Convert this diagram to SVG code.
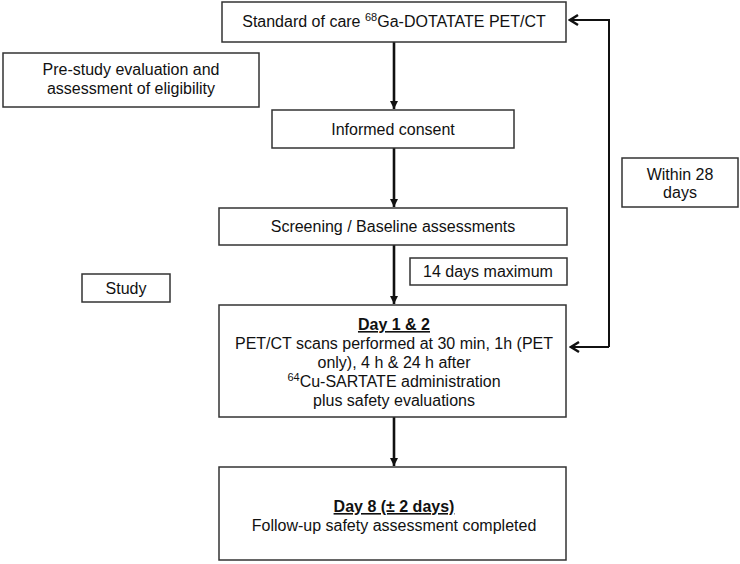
<svg xmlns="http://www.w3.org/2000/svg" width="740" height="564" viewBox="0 0 740 564">
<style>
.box{fill:#fff;stroke:#333;stroke-width:1.5}
text{font-family:"Liberation Sans",Arial,sans-serif;font-size:16px;fill:#111;text-anchor:middle}
.b{font-weight:bold;text-decoration:underline}
.sup{font-size:11px}
.line{fill:none;stroke:#111;stroke-width:2}
.v{stroke-width:2.6}
</style>
<defs>
<marker id="ad" markerWidth="10" markerHeight="10" refX="9" refY="5" orient="auto" markerUnits="userSpaceOnUse" viewBox="0 0 10 10">
<path d="M1,1 L9,5 L1,9 Z" fill="#111"/>
</marker>
<marker id="al" markerWidth="14" markerHeight="14" refX="12" refY="7" orient="auto" markerUnits="userSpaceOnUse" viewBox="0 0 14 14">
<path d="M4,2 L12,7 L4,12" fill="none" stroke="#111" stroke-width="2.5"/>
</marker>
</defs>
<rect width="740" height="564" fill="#fff"/>
<g id="connectors">
<line class="line v" x1="394" y1="42" x2="394" y2="109" marker-end="url(#ad)"/>
<line class="line v" x1="394" y1="148" x2="394" y2="207" marker-end="url(#ad)"/>
<line class="line v" x1="394" y1="245" x2="394" y2="304" marker-end="url(#ad)"/>
<line class="line v" x1="394" y1="417" x2="394" y2="466" marker-end="url(#ad)"/>
<polyline class="line" points="609,347 609,20 570,20" marker-end="url(#al)"/>
<line class="line" x1="609" y1="347" x2="571" y2="347" marker-end="url(#al)"/>
</g>
<g id="n-standard">
<rect class="box" x="222" y="2" width="344" height="40"/>
<text x="394" y="27">Standard of care <tspan class="sup" dy="-6">68</tspan><tspan dy="6">Ga-DOTATATE PET/CT</tspan></text>
</g>
<g id="n-prestudy">
<rect class="box" x="3" y="53" width="256" height="54"/>
<text x="131" y="75">Pre-study evaluation and</text>
<text x="131" y="94">assessment of eligibility</text>
</g>
<g id="n-consent">
<rect class="box" x="272" y="110" width="242" height="38"/>
<text x="393" y="135">Informed consent</text>
</g>
<g id="n-screening">
<rect class="box" x="219" y="208" width="348" height="37"/>
<text x="393" y="232">Screening / Baseline assessments</text>
</g>
<g id="n-14days">
<rect class="box" x="410" y="258" width="157" height="27"/>
<text x="488" y="277">14 days maximum</text>
</g>
<g id="n-study">
<rect class="box" x="82" y="274" width="88" height="28"/>
<text x="126" y="294">Study</text>
</g>
<g id="n-within">
<rect class="box" x="622" y="158" width="116" height="49"/>
<text x="680" y="180">Within 28</text>
<text x="680" y="198">days</text>
</g>
<g id="n-day12">
<rect class="box" x="219" y="305" width="347" height="112"/>
<text x="394" y="330" class="b">Day 1 &amp; 2</text>
<text x="394" y="349">PET/CT scans performed at 30 min, 1h (PET</text>
<text x="394" y="368">only), 4 h &amp; 24 h after</text>
<text x="394" y="387"><tspan class="sup" dy="-6">64</tspan><tspan dy="6">Cu-SARTATE administration</tspan></text>
<text x="394" y="406">plus safety evaluations</text>
</g>
<g id="n-day8">
<rect class="box" x="219" y="467" width="347" height="93"/>
<text x="394" y="512" class="b">Day 8 (± 2 days)</text>
<text x="394" y="531">Follow-up safety assessment completed</text>
</g>
</svg>
